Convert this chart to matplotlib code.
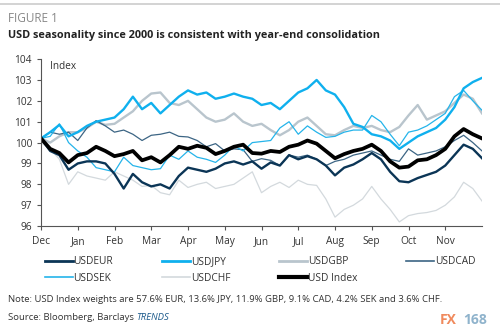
import numpy as np
import matplotlib
matplotlib.use("Agg")
import matplotlib.pyplot as plt
from matplotlib.lines import Line2D

plt.rcParams['font.family'] = ['Open Sans', 'DejaVu Sans']

# month positions (0 = start of Dec, 12 = end of Nov), sampled every quarter month
months = np.arange(49) / 4.0
month_labels = ['Dec', 'Jan', 'Feb', 'Mar', 'Apr', 'May', 'Jun',
                'Jul', 'Aug', 'Sep', 'Oct', 'Nov']

usdeur = [100.2, 99.6, 99.4, 98.7, 99.0, 99.1, 99.1, 99.0, 98.5, 97.8,
          98.5, 98.1, 97.9, 98.0, 97.8, 98.4, 98.8, 98.7, 98.6, 98.75,
          99.0, 99.1, 98.95, 99.1, 98.75, 99.05, 98.9, 99.4, 99.2, 99.35,
          99.2, 98.9, 98.43, 98.8, 98.95, 99.2, 99.5, 99.2, 98.6, 98.15,
          98.1, 98.3, 98.45, 98.6, 98.9, 99.4, 99.9, 99.7, 99.25]
usdjpy = [100.2, 100.5, 100.85, 100.3, 100.5, 100.8, 101.0, 101.1, 101.2, 101.6,
          102.2, 101.6, 101.9, 101.4, 101.8, 102.2, 102.5, 102.3, 102.4, 102.1,
          102.2, 102.35, 102.2, 102.1, 101.8, 101.9, 101.6, 102.0, 102.4, 102.6,
          103.0, 102.5, 102.3, 101.7, 100.9, 100.75, 100.4, 100.3, 100.1, 99.7,
          100.0, 100.3, 100.5, 100.7, 101.1, 101.7, 102.6, 102.9, 103.1]
usdgbp = [100.2, 100.0, 100.3, 100.5, 100.5, 100.7, 101.0, 100.85, 100.9, 101.2,
          101.5, 102.0, 102.35, 102.4, 101.9, 101.8, 102.0, 101.6, 101.2, 101.0,
          101.1, 101.4, 101.0, 100.8, 100.9, 100.6, 100.35, 100.6, 101.0, 101.2,
          100.8, 100.4, 100.35, 100.6, 100.8, 100.7, 100.8, 100.6, 100.5, 100.75,
          101.3, 101.8, 101.1, 101.3, 101.5, 101.9, 102.3, 102.1, 101.4]
usdcad = [100.2, 100.5, 100.4, 100.5, 100.1, 100.7, 101.05, 100.8, 100.5, 100.6,
          100.4, 100.1, 100.35, 100.4, 100.5, 100.3, 100.27, 100.1, 99.8, 99.95,
          99.6, 99.7, 99.66, 99.1, 99.23, 99.15, 98.9, 99.4, 99.3, 99.4,
          99.2, 98.9, 99.1, 99.2, 99.4, 99.5, 99.6, 99.4, 99.2, 99.1,
          99.7, 99.4, 99.5, 99.6, 99.8, 100.1, 100.35, 100.0, 99.6]
usdsek = [100.2, 100.3, 100.9, 100.0, 99.6, 99.3, 98.8, 98.7, 98.6, 99.3,
          98.9, 98.8, 98.7, 98.75, 99.4, 99.2, 99.6, 99.3, 99.2, 99.05,
          99.4, 99.85, 99.6, 100.0, 100.05, 100.1, 100.7, 101.0, 100.4, 100.8,
          100.5, 100.25, 100.3, 100.5, 100.6, 100.6, 101.3, 101.0, 100.4, 99.85,
          100.5, 100.6, 100.8, 101.1, 101.4, 102.2, 102.5, 102.0, 101.55]
usdchf = [100.0, 99.7, 99.2, 98.0, 98.6, 98.4, 98.3, 98.2, 98.6, 98.4,
          98.2, 97.9, 97.95, 97.6, 97.5, 98.2, 97.85, 98.0, 98.1, 97.8,
          97.9, 98.0, 98.3, 98.6, 97.6, 97.9, 98.1, 97.85, 98.2, 98.0,
          97.95, 97.3, 96.43, 96.8, 97.0, 97.3, 97.9, 97.3, 96.8, 96.2,
          96.5, 96.6, 96.65, 96.75, 97.0, 97.4, 98.1, 97.8, 97.2]
usd_index = [100.2, 99.7, 99.5, 99.05, 99.4, 99.5, 99.8, 99.6, 99.35, 99.45,
             99.6, 99.15, 99.3, 99.05, 99.4, 99.8, 99.7, 99.85, 99.75, 99.45,
             99.6, 99.8, 99.9, 99.5, 99.47, 99.6, 99.55, 99.8, 99.9, 100.1,
             99.95, 99.6, 99.25, 99.45, 99.6, 99.7, 99.9, 99.6, 99.1, 98.8,
             98.85, 99.15, 99.2, 99.4, 99.7, 100.3, 100.65, 100.4, 100.2]

# name, data, colour, width  (drawing order: light ones first, index on top)
series = [
    ('USDCHF', usdchf, '#d3d9dd', 0.9),
    ('USDGBP', usdgbp, '#b9c5cd', 1.7),
    ('USDCAD', usdcad, '#3c6584', 0.9),
    ('USDSEK', usdsek, '#25b4ea', 0.9),
    ('USDJPY', usdjpy, '#0fb0ee', 1.7),
    ('USDEUR', usdeur, '#0b3556', 1.7),
    ('USD Index', usd_index, '#000000', 2.7),
]

fig = plt.figure(figsize=(5, 3.32), dpi=100)
ax = fig.add_axes([0.082, 0.319, 0.882, 0.503])

handles = {}
for name, vals, col, lw in series:
    line, = ax.plot(months, vals, color=col, lw=lw, solid_joinstyle='round')
    handles[name] = Line2D([], [], color=col, lw=lw + 0.3)

ax.set_xlim(0, 12)
ax.set_ylim(96, 104)
ax.set_yticks(range(96, 105))
ax.set_xticks(range(12))
ax.set_xticklabels(month_labels)
for s in ['top', 'right']:
    ax.spines[s].set_visible(False)
for s in ['left', 'bottom']:
    ax.spines[s].set_color('#555555')
    ax.spines[s].set_linewidth(0.8)
ax.tick_params(colors='#555555', labelcolor='#333333', labelsize=7.3, length=3, width=0.8)
ax.tick_params(axis='x', pad=4)
ax.text(0.25, 103.65, 'Index', fontsize=7.2, color='#333333', va='center')

# legend: column-major order so rows read EUR/JPY/GBP/CAD then SEK/CHF/Index
order = ['USDEUR', 'USDSEK', 'USDJPY', 'USDCHF', 'USDGBP', 'USD Index', 'USDCAD']
fig.legend([handles[n] for n in order], order, ncol=4, loc='upper left',
           bbox_to_anchor=(0.072, 0.255), frameon=False, fontsize=7.3,
           handlelength=2.7, handletextpad=0.1, columnspacing=4.85,
           labelspacing=0.55, labelcolor='#333333')

# header
fig.add_artist(Line2D([0.0, 1.0], [0.987, 0.987], color='#cccccc', lw=1.2))
fig.text(0.016, 0.945, 'FIGURE 1', fontsize=8.5, color='#888888', va='center')
fig.text(0.016, 0.893, 'USD seasonality since 2000 is consistent with year-end consolidation',
         fontsize=7.8, fontweight='bold', color='#222222', va='center')

# footer
fig.text(0.016, 0.098, 'Note: USD Index weights are 57.6% EUR, 13.6% JPY, 11.9% GBP, '
         '9.1% CAD, 4.2% SEK and 3.6% CHF.', fontsize=6.8, color='#333333', va='center')
t = fig.text(0.016, 0.043, 'Source: Bloomberg, Barclays ', fontsize=6.8,
             color='#333333', va='center')
fig.canvas.draw()
bb = t.get_window_extent()
fig.text(bb.x1 / fig.bbox.width, 0.043, 'TRENDS', fontsize=6.8, style='italic',
         color='#1d5b8c', va='center')

# watermark
fig.text(0.88, 0.035, 'FX', fontsize=10, fontweight='bold', color='#f08a5d', va='center')
fig.text(0.926, 0.035, '168', fontsize=10, fontweight='bold', color='#8fb3cc', va='center')

fig.savefig('out.png', dpi=100)
